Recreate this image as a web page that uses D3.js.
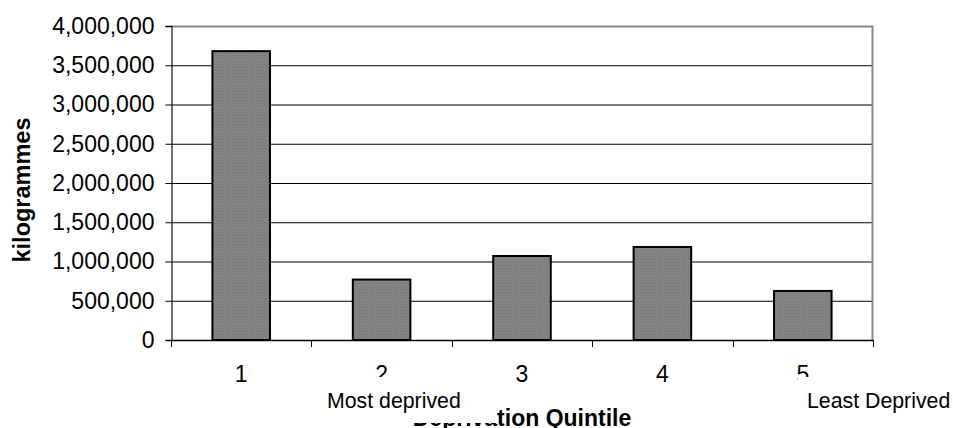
<!DOCTYPE html>
<html>
<head>
<meta charset="utf-8">
<script src="https://cdn.jsdelivr.net/npm/d3@7"></script>
<style>
  body { margin: 0; background: #fff; }
  text { font-family: "Liberation Sans", Arial, sans-serif; fill: #000; }
</style>
</head>
<body>
<svg></svg>
<script>
// chart data
var quintiles = ["1", "2", "3", "4", "5"];
var kilos = [3680000, 770000, 1070000, 1185000, 625000];
var yTicks = [0, 500000, 1000000, 1500000, 2000000, 2500000, 3000000, 3500000, 4000000];

var width = 953, height = 428;
var plotLeft = 171, plotRight = 873, plotTop = 26, plotBottom = 340;

var svg = d3.select("svg")
  .attr("width", width)
  .attr("height", height);

// dotted grey fill like the old Excel bars
var pat = svg.append("defs").append("pattern")
  .attr("id", "dots")
  .attr("width", 3).attr("height", 3)
  .attr("patternUnits", "userSpaceOnUse");
pat.append("rect").attr("width", 3).attr("height", 3).attr("fill", "#838383");
pat.append("rect").attr("x", 1).attr("y", 1).attr("width", 1).attr("height", 1).attr("fill", "#747474");

var x = d3.scaleBand()
  .domain(quintiles)
  .range([plotLeft, plotRight])
  .paddingInner(0.59)
  .paddingOuter(0.295);

var y = d3.scaleLinear()
  .domain([0, 4000000])
  .range([plotBottom, plotTop]);

// gridlines
svg.append("g")
  .selectAll("line")
  .data(yTicks.slice(1, -1))
  .enter()
  .append("line")
  .attr("x1", plotLeft).attr("x2", plotRight)
  .attr("y1", function(d) { return y(d) + 0.5; })
  .attr("y2", function(d) { return y(d) + 0.5; })
  .attr("stroke", "#000")
  .attr("stroke-width", 1);

// plot area border (grey top and right)
svg.append("path")
  .attr("d", "M" + plotLeft + "," + (plotTop + 0.5) + "H" + (plotRight - 0.5) + "V" + plotBottom)
  .attr("fill", "none")
  .attr("stroke", "#888")
  .attr("stroke-width", 2);

// bars
svg.selectAll(".bar")
  .data(kilos)
  .enter()
  .append("rect")
  .attr("class", "bar")
  .attr("x", function(d, i) { return x(quintiles[i]); })
  .attr("width", x.bandwidth())
  .attr("y", function(d) { return y(d); })
  .attr("height", function(d) { return plotBottom - y(d); })
  .attr("fill", "url(#dots)")
  .attr("stroke", "#000")
  .attr("stroke-width", 2);

// y axis
var yAxis = svg.append("g")
  .attr("transform", "translate(" + (plotLeft + 0.5) + ",0)")
  .call(d3.axisLeft(y).tickValues(yTicks).tickFormat(d3.format(",")).tickSize(6).tickPadding(11));
yAxis.select(".domain").attr("stroke", "#222").attr("stroke-width", 1.3);
yAxis.selectAll(".tick line").attr("stroke", "#000");
yAxis.selectAll(".tick text")
  .attr("font-size", 23)
  .attr("font-family", "Liberation Sans, Arial, sans-serif");

// x axis: ticks at category boundaries
var bounds = quintiles.map(function(q) { return x(q) - x.step() * x.paddingInner() / 2; });
bounds[0] = plotLeft;
bounds.push(plotRight);
svg.append("line")
  .attr("x1", plotLeft).attr("x2", plotRight)
  .attr("y1", plotBottom + 0.5).attr("y2", plotBottom + 0.5)
  .attr("stroke", "#000").attr("stroke-width", 1.3);
svg.append("g")
  .selectAll("line")
  .data(bounds)
  .enter()
  .append("line")
  .attr("x1", function(d) { return Math.round(d) + 0.5; })
  .attr("x2", function(d) { return Math.round(d) + 0.5; })
  .attr("y1", plotBottom).attr("y2", plotBottom + 7)
  .attr("stroke", "#000");

svg.append("g")
  .selectAll("text")
  .data(quintiles)
  .enter()
  .append("text")
  .attr("x", function(d) { return x(d) + x.bandwidth() / 2; })
  .attr("y", 382)
  .attr("text-anchor", "middle")
  .attr("font-size", 23)
  .text(function(d) { return d; });

// axis titles
svg.append("text")
  .attr("transform", "translate(30,190) rotate(-90)")
  .attr("text-anchor", "middle")
  .attr("font-size", 23.5)
  .attr("font-weight", "bold")
  .text("kilogrammes");

svg.append("text")
  .attr("x", (plotLeft + plotRight) / 2)
  .attr("y", 426)
  .attr("text-anchor", "middle")
  .attr("font-size", 23)
  .attr("font-weight", "bold")
  .text("Deprivation Quintile");

// text boxes laid over the axis labels
svg.append("rect")
  .attr("x", 318).attr("y", 377).attr("width", 179).attr("height", 46)
  .attr("fill", "#fff");
svg.append("text")
  .attr("x", 327).attr("y", 408)
  .attr("font-size", 21.3)
  .text("Most deprived");

svg.append("rect")
  .attr("x", 798).attr("y", 377).attr("width", 155).attr("height", 46)
  .attr("fill", "#fff");
svg.append("text")
  .attr("x", 807).attr("y", 408)
  .attr("font-size", 21.3)
  .text("Least Deprived");
</script>
</body>
</html>
